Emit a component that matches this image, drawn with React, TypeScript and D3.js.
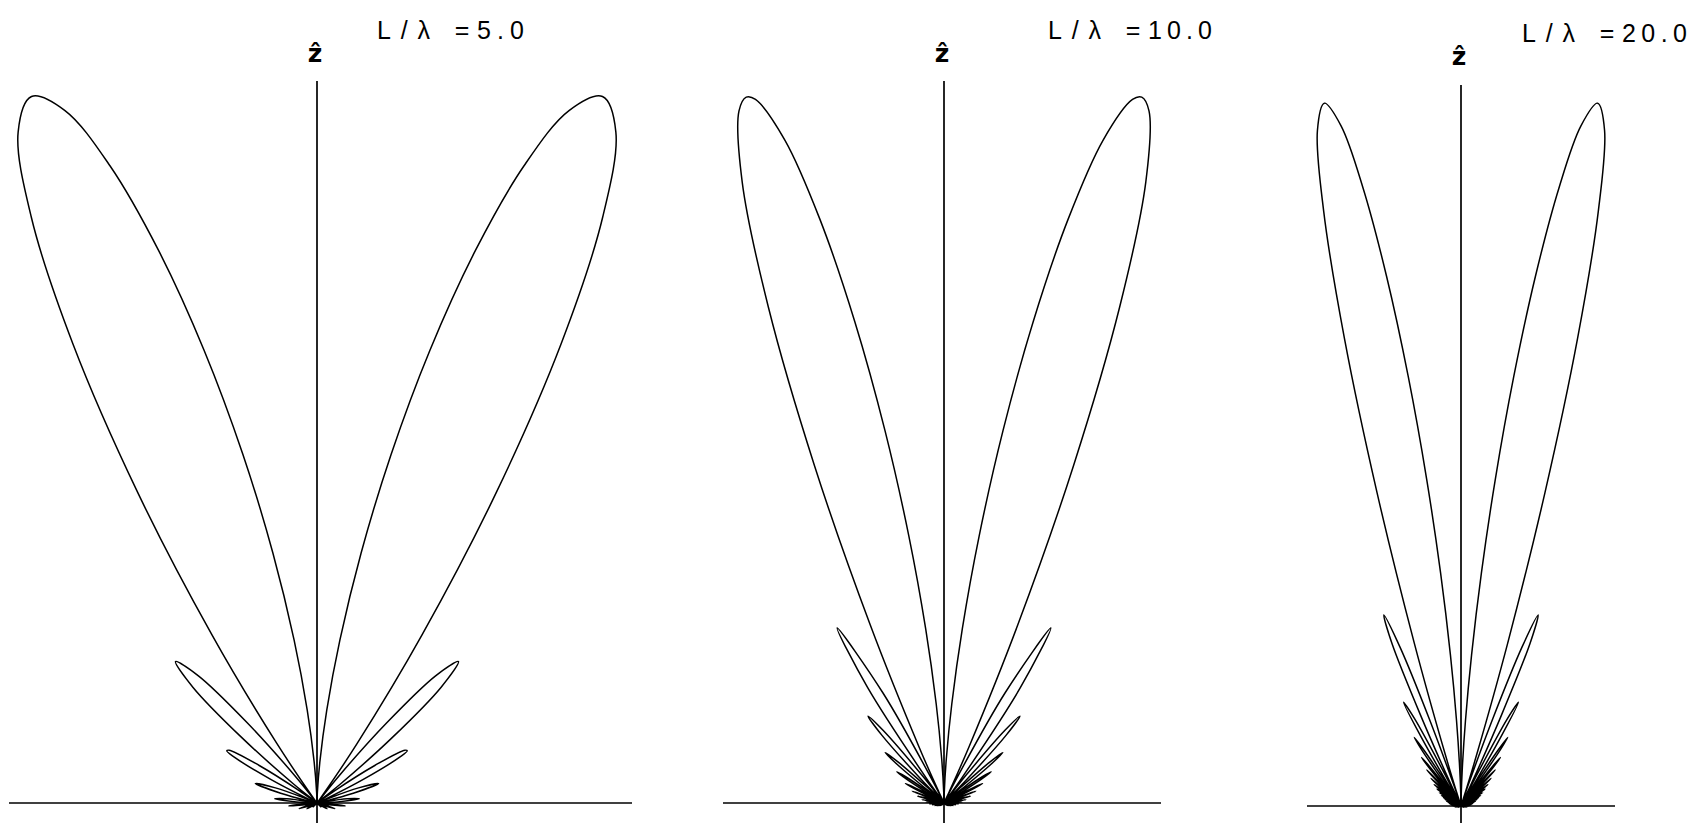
import React from "react";
import * as d3 from "d3";

// power pattern: [theta from z axis in degrees, relative power]
// one half only, the other side is the mirror image
const pattern5: [number, number][] = [
  [0, 0], [2, 0.0137], [4, 0.0547], [6, 0.1226], [8, 0.2162], [10, 0.3329], [12, 0.4676],
  [14, 0.6121], [16, 0.7544], [18, 0.8793], [20, 0.967], [22, 1.0], [24, 0.9642], [26, 0.8552],
  [28, 0.6822], [30, 0.471], [32, 0.2601], [34, 0.0947], [36, 0.0086], [36.87, 0],
  [39, 0.0449], [41, 0.1391], [43, 0.2282], [45, 0.2625], [47, 0.2224], [49, 0.1307], [51, 0.0396], [53.13, 0],
  [55, 0.0274], [57, 0.0904], [59, 0.1346], [60, 0.1368], [61, 0.1241], [63, 0.0682], [65, 0.0136], [66.42, 0],
  [68, 0.0151], [70, 0.058], [72.5, 0.0848], [75, 0.0493], [77, 0.0105], [78.46, 0],
  [80, 0.0105], [82, 0.0402], [84.3, 0.0557], [87, 0.0271], [89, 0.0034], [90, 0],
  [92, 0.0116], [95.7, 0.0373], [99, 0.0132], [101.5, 0],
  [104, 0.0104], [107.5, 0.0246], [111, 0.008], [113.6, 0],
  [117, 0.007], [120, 0.0152], [124, 0.005], [126.9, 0],
  [134.5, 0.008], [143.1, 0], [160, 0.0024], [180, 0],
];

const pattern10: [number, number][] = [
  [0, 0], [1.5, 0.0151], [3, 0.0605], [4.5, 0.1355], [6, 0.2389], [7.5, 0.3673], [9, 0.514],
  [10.5, 0.6682], [12, 0.814], [13.5, 0.9301], [15, 0.9937], [15.65, 1.0], [16.5, 0.9847], [18, 0.891],
  [19.5, 0.7182], [21, 0.4933], [22.5, 0.2628], [24, 0.0844], [25, 0.0176], [25.84, 0],
  [27, 0.0302], [29, 0.1712], [31.4, 0.2797], [33.5, 0.189], [35.5, 0.04], [36.87, 0],
  [38.5, 0.0495], [40, 0.1294], [41.2, 0.1574], [42.5, 0.1256], [44, 0.0447], [45.57, 0],
  [47, 0.034], [48.2, 0.0843], [49.35, 0.1058], [50.5, 0.0826], [51.5, 0.0405], [53.13, 0],
  [54.5, 0.0274], [55.6, 0.064], [56.6, 0.0772], [57.6, 0.06], [58.5, 0.03], [60, 0],
  [61.5, 0.021], [62.4, 0.046], [63.3, 0.059], [64.3, 0.045], [65.2, 0.02], [66.42, 0],
  [67.9, 0.02], [69.5, 0.0465], [71.1, 0.02], [72.54, 0],
  [74, 0.016], [75.5, 0.0373], [77, 0.016], [78.46, 0],
  [79.9, 0.013], [81.4, 0.0303], [82.8, 0.013], [84.26, 0],
  [85.7, 0.011], [87.1, 0.0247], [88.6, 0.011], [90, 0],
  [92.9, 0.0202], [95.7, 0], [98.6, 0.0165], [101.5, 0], [104.5, 0.0134], [107.5, 0],
  [110.5, 0.0108], [113.6, 0], [116.7, 0.0085], [120, 0], [123.4, 0.0065], [126.9, 0],
  [130.5, 0.0047], [134.4, 0], [138.6, 0.0032], [143.1, 0], [148.2, 0.0018], [154.2, 0], [180, 0],
];

const pattern20: [number, number][] = [
  [0, 0], [1, 0.0133], [2, 0.0533], [3, 0.1196], [4, 0.2113], [5, 0.3261], [6, 0.4595], [7, 0.6037],
  [8, 0.7471], [9, 0.8733], [10, 0.9646], [11, 1.0], [12, 0.9645], [13, 0.8524], [14, 0.6727],
  [15, 0.4531], [16, 0.2367], [17, 0.074], [17.6, 0.0183], [18.19, 0],
  [19, 0.0305], [20, 0.1297], [21, 0.2377], [22, 0.2877], [23, 0.247], [24, 0.1386], [25, 0.0337], [25.84, 0],
  [27, 0.0551], [28, 0.1373], [29, 0.1656], [30, 0.1103], [31, 0.0273], [31.79, 0],
  [32.9, 0.047], [33.6, 0.0938], [34.3, 0.1159], [35.1, 0.0915], [35.9, 0.0368], [36.87, 0],
  [37.8, 0.03], [38.5, 0.072], [39.1, 0.0877], [39.8, 0.07], [40.6, 0.03], [41.41, 0],
  [42.4, 0.033], [43.5, 0.0695], [44.6, 0.032], [45.57, 0],
  [46.5, 0.027], [47.5, 0.0571], [48.5, 0.026], [49.46, 0],
  [50.4, 0.023], [51.3, 0.048], [52.2, 0.022], [53.13, 0],
  [54, 0.02], [54.9, 0.0411], [55.8, 0.019], [56.63, 0],
  [57.5, 0.017], [58.3, 0.0356], [59.2, 0.017], [60, 0],
  [60.8, 0.015], [61.7, 0.0311], [62.5, 0.015], [63.26, 0],
  [64, 0.013], [64.8, 0.0275], [65.6, 0.013], [66.42, 0],
  [67.2, 0.012], [68, 0.0244], [68.8, 0.012], [69.51, 0],
  [71, 0.0218], [72.54, 0], [74, 0.0195], [75.52, 0], [77, 0.0175], [78.46, 0],
  [79.9, 0.0158], [81.37, 0], [82.8, 0.0143], [84.26, 0], [85.7, 0.0129], [87.13, 0],
  [88.6, 0.0117], [90, 0], [91.4, 0.0105], [92.9, 0], [94.3, 0.0095], [95.7, 0],
  [97.2, 0.0086], [98.6, 0], [100, 0.0078], [101.5, 0], [110, 0.005], [120, 0], [180, 0],
];

const ratios = ["5.0", "10.0", "20.0"];
const patterns = [pattern5, pattern10, pattern20];

// where each panel sits on the page
const layout = [
  { cx: 317, cy: 803, rMax: 762, left: 9, right: 632, top: 81, titleX: 377, valueLen: 47, dy: 0 },
  { cx: 944, cy: 803, rMax: 733, left: 723, right: 1161, top: 81, titleX: 1048, valueLen: 64, dy: 0 },
  { cx: 1461, cy: 806, rMax: 716, left: 1307, right: 1615, top: 85, titleX: 1522, valueLen: 65, dy: 3 },
];

const W = 1699;
const H = 823;
const titleFont = "Liberation Sans, Arial, sans-serif";

function Panel({ idx }: { idx: number }) {
  const lay = layout[idx];
  const data = patterns[idx];
  const r = d3.scaleLinear().domain([0, 1]).range([0, lay.rMax]);

  const half = (sign: number) =>
    d3
      .lineRadial<[number, number]>()
      .angle((d) => (sign * d[0] * Math.PI) / 180)
      .radius((d) => r(d[1]))
      .curve(d3.curveCatmullRom.alpha(0.5))(data) || "";

  const ty = 39 + lay.dy;

  return (
    <g>
      {/* axes */}
      <line x1={lay.left} x2={lay.right} y1={lay.cy} y2={lay.cy} stroke="#000" strokeWidth={1.7} />
      <line x1={lay.cx} x2={lay.cx} y1={lay.top} y2={H} stroke="#000" strokeWidth={1.7} />
      {/* pattern, both halves */}
      <g transform={`translate(${lay.cx},${lay.cy})`}>
        <path d={half(1)} fill="none" stroke="#000" strokeWidth={1.5} />
        <path d={half(-1)} fill="none" stroke="#000" strokeWidth={1.5} />
      </g>
      <text
        x={lay.cx - 2}
        y={62 + lay.dy}
        textAnchor="middle"
        fontFamily="DejaVu Sans, sans-serif"
        fontWeight="bold"
        fontSize={25}
      >
        ẑ
      </text>
      <g fontFamily={titleFont} fontSize={25}>
        <text x={lay.titleX} y={ty} textLength={53} lengthAdjust="spacing">
          L/λ
        </text>
        <text x={lay.titleX + 85} y={ty} textAnchor="middle">
          =
        </text>
        <text x={lay.titleX + 100} y={ty} textLength={lay.valueLen} lengthAdjust="spacing">
          {ratios[idx]}
        </text>
      </g>
    </g>
  );
}

export default function App() {
  return (
    <svg
      width={W}
      height={H}
      style={{ position: "absolute", left: 0, top: 0, background: "#fff" }}
    >
      <rect width={W} height={H} fill="#fff" />
      {ratios.map((_, i) => (
        <Panel key={i} idx={i} />
      ))}
    </svg>
  );
}
